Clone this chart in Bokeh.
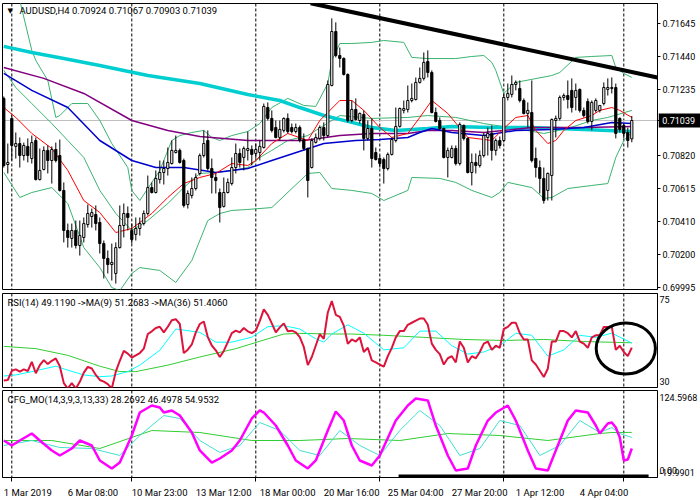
from bokeh.plotting import figure
from bokeh.layouts import column
from bokeh.models import Range1d, FixedTicker, PrintfTickFormatter, Span, Label, ColumnDataSource, GridBox
from bokeh.core.properties import value
from bokeh.embed import file_html
from bokeh.resources import INLINE

# ---------------- data (prices in points: 1 point = 0.00001) ----------------
open_pts = [71177,70764,71052,70877,70895,70820,70877,70801,70914,70670,70733,70852,70789,70858,70820,70602,70352,70302,70352,70258,
            70308,70389,70439,70452,70402,70270,70177,70139,70083,70245,70383,70458,70352,70327,70364,70395,70458,70620,70589,70670,
            70714,70739,70770,70839,70852,70789,70514,70570,70614,70708,70820,70914,70739,70683,70589,70502,70589,70645,70745,70833,
            70808,70852,70858,70833,70839,70870,71120,71052,70995,70933,70977,71052,70995,70970,70995,70920,70864,70745,70902,70927,
            70995,70945,71258,71595,71445,71427,71327,71039,71108,71039,71077,70927,70989,70839,70802,70795,70739,70827,70914,71002,
            71102,71108,71164,71170,71277,71302,71408,71339,71089,71039,70989,70808,70808,70864,70770,71008,70927,70714,70777,70758,
            70820,70933,70958,70852,70914,70914,71183,71202,71264,71239,71164,71083,71089,70802,70745,70677,70602,70695,71039,71052,
            71183,71195,71227,71183,71233,71102,71158,71033,71102,71102,71145,71233,71239,71245,71052,71008,70964,70924]
high_pts = [71189,70895,71070,70964,70933,70901,70927,70945,70933,70864,70877,70883,70877,70901,70920,70652,70395,70395,70414,70414,
            70433,70514,70489,70508,70433,70289,70227,70270,70277,70508,70520,70502,70395,70433,70433,70477,70695,70652,70727,70789,
            70789,70870,70914,70945,70864,70801,70602,70683,70708,70833,70977,70977,70801,70708,70614,70683,70677,70808,70895,70864,
            70877,70970,70883,70895,70914,71145,71152,71102,71039,71039,71058,71083,71020,71020,71008,70958,70870,70927,70958,71008,
            71027,71289,71677,71652,71495,71433,71333,71164,71177,71089,71102,71039,71052,70870,70820,70808,70839,70933,71120,71120,
            71164,71258,71270,71308,71370,71464,71477,71352,71120,71058,70995,70870,70883,70883,71027,71014,70933,70833,70833,70852,
            70964,70995,71008,70927,70939,71208,71270,71320,71289,71289,71177,71152,71289,70870,70789,70745,70714,71052,71070,71195,
            71208,71289,71302,71270,71239,71120,71177,71164,71177,71133,71277,71302,71308,71270,71058,71020,70995,71067]
low_pts = [70745,70708,70789,70801,70745,70789,70777,70770,70664,70664,70727,70708,70645,70777,70595,70277,70245,70245,70239,70195,
           70277,70370,70370,70352,70208,70052,70083,70039,70020,70239,70308,70352,70270,70289,70320,70383,70445,70583,70583,70645,
           70639,70695,70764,70833,70770,70495,70489,70552,70602,70695,70808,70727,70583,70583,70402,70495,70583,70633,70708,70745,
           70727,70789,70758,70801,70789,70864,71039,70964,70927,70914,70964,70958,70958,70958,70902,70852,70558,70739,70895,70914,
           70914,70933,71252,71433,71370,71320,71027,71027,71039,71020,70852,70914,70745,70789,70745,70645,70727,70820,70902,70995,
           71083,71089,71152,71164,71270,71289,71308,71083,71027,70977,70802,70683,70802,70758,70758,70914,70708,70633,70708,70745,
           70808,70820,70789,70820,70864,70902,71164,71183,71227,71152,71077,70995,70777,70683,70583,70520,70539,70539,70933,71039,
           71164,71114,71089,71102,71089,71058,71020,70977,71089,71089,71133,71195,71208,70927,70964,70927,70870,70903]
close_pts = [70758,70777,70883,70895,70820,70883,70820,70901,70670,70727,70852,70789,70858,70789,70602,70352,70308,70352,70258,70320,
             70395,70458,70464,70395,70270,70177,70139,70152,70245,70383,70458,70433,70295,70364,70395,70458,70620,70589,70677,70714,
             70739,70777,70852,70852,70777,70508,70583,70614,70683,70820,70895,70739,70683,70664,70495,70589,70652,70745,70833,70777,
             70864,70864,70827,70858,70877,71127,71052,70977,70933,70983,71052,70970,70970,70995,70914,70864,70664,70914,70933,70995,
             70945,71264,71595,71445,71427,71327,71039,71108,71045,71083,70927,70989,70802,70795,70770,70739,70827,70920,71002,71114,
             71114,71164,71177,71277,71302,71402,71339,71089,71033,70989,70808,70852,70864,70770,71014,70927,70714,70777,70758,70820,
             70945,70958,70852,70914,70883,71183,71208,71264,71277,71164,71083,71102,70789,70745,70677,70539,70708,71045,71052,71183,
             71195,71170,71120,71227,71102,71070,71033,71152,71164,71133,71245,71245,71245,70958,70983,70958,70914,71039]

# moving averages on the price chart (bar index, price)
slow_ma_bars = [0,7,15,24,36,49,61,69,74,80,87,92,98,106,112,122,132,145,157]
slow_ma = [0.71502,0.71464,0.71426,0.71383,0.71320,0.71270,0.71201,0.71164,0.71120,0.71070,0.71027,0.70995,0.70977,0.70989,0.71002,0.70995,0.70995,0.70983,0.70970]
purple_ma_bars = [0,10,20,32,41,49,61,75,84,92,101,106,112,120,132,145,157]
purple_ma = [0.71370,0.71302,0.71208,0.71039,0.70977,0.70939,0.70914,0.70914,0.70945,0.70958,0.70958,0.70977,0.70977,0.70964,0.70995,0.70995,0.71002]
blue_ma_bars = [0,7,16,24,32,38,45,53,61,67,80,88,94,101,104,107,112,120,128,137,145,152,157]
blue_ma = [0.71333,0.71227,0.71120,0.70914,0.70789,0.70745,0.70745,0.70714,0.70739,0.70789,0.70895,0.70914,0.70920,0.70933,0.70964,0.70989,0.70964,0.70945,0.70977,0.70983,0.70995,0.71027,0.71020]
red_ma_bars = [0,3,7,12,16,20,24,28,32,37,41,45,49,53,57,61,63,67,71,76,79,84,87,90,94,97,101,104,107,111,116,122,125,128,131,133,136,138,140,143,147,149,152,154,157]
red_ma = [0.71120,0.71058,0.70958,0.70864,0.70727,0.70539,0.70464,0.70339,0.70364,0.70458,0.70558,0.70645,0.70683,0.70708,0.70770,0.70758,0.70789,0.70895,0.70958,0.70914,
          0.71039,0.71164,0.71164,0.71102,0.70995,0.70933,0.70958,0.71058,0.71164,0.71083,0.70933,0.70914,0.70989,0.71058,0.71070,0.70977,0.70895,0.70914,0.70977,0.71039,
          0.71070,0.71102,0.71120,0.71102,0.71058]
bb_up_bars = [0,4,7,8,11,13,14,17,21,24,27,31,32,34,36,39,42,44,47,50,52,54,57,61,64,67,71,75,78,81,82,84,87,92,95,100,102,106,113,117,120,122,123,125,128,137,139,143,147,152,153,155,157]
bb_up = [0.72258,0.71789,0.71477,0.71414,0.71289,0.71058,0.71070,0.71145,0.71145,0.71039,0.70895,0.70745,0.70602,0.70539,0.70614,0.70727,0.70914,0.70945,0.70964,0.70977,
         0.70933,0.70914,0.70945,0.70970,0.71020,0.71120,0.71177,0.71133,0.71127,0.71270,0.71414,0.71520,0.71520,0.71527,0.71539,0.71527,0.71433,0.71426,0.71426,0.71439,
         0.71445,0.71402,0.71352,0.71208,0.71277,0.71320,0.71339,0.71433,0.71439,0.71445,0.71370,0.71333,0.71308]
bb_mid_bars = [0,3,7,12,16,20,24,28,32,36,41,45,49,53,57,61,64,67,71,76,80,84,92,101,106,113,120,128,135,141,147,151,157]
bb_mid = [0.71352,0.71245,0.71145,0.71020,0.70914,0.70808,0.70602,0.70458,0.70352,0.70414,0.70520,0.70620,0.70708,0.70714,0.70727,0.70745,0.70808,0.70852,0.70914,0.70945,
          0.71008,0.71070,0.71052,0.71058,0.71070,0.71058,0.71020,0.70989,0.70958,0.70989,0.71039,0.71058,0.71102]
bb_lo_bars = [0,4,7,12,16,20,24,27,29,32,34,39,43,47,51,54,57,61,67,76,79,82,87,92,95,101,102,109,113,117,122,124,126,132,135,137,141,147,151,153,155,157]
bb_lo = [0.70714,0.70558,0.70589,0.70620,0.70520,0.70245,0.70120,0.69995,0.69976,0.70083,0.70120,0.70102,0.70027,0.70164,0.70414,0.70458,0.70477,0.70483,0.70495,0.70708,
         0.70714,0.70614,0.70602,0.70583,0.70539,0.70602,0.70683,0.70677,0.70652,0.70602,0.70558,0.70589,0.70652,0.70620,0.70552,0.70558,0.70614,0.70633,0.70645,0.70808,
         0.70914,0.70964]
trend_bars = [76.7, 163.4]
trend_prices = [0.71772, 0.71308]
bid_price = 0.71039
price_ticks = [0.69995, 0.70200, 0.70410, 0.70615, 0.70820, 0.71235, 0.71440, 0.71645]

# RSI(14) one value per bar, and its moving averages
rsi = [33.3,33.6,38.0,38.7,37.6,38.7,37.9,42.3,36.8,40.7,43.1,41.2,42.8,43.9,40.2,32.1,29.5,32.1,29.5,32.7,
       37.1,39.9,39.1,36.0,33.6,32.8,31.6,29.5,37.6,42.8,47.5,46.2,44.3,45.4,46.5,48.6,55.6,56.9,58.5,59.1,
       56.4,59.1,62.2,62.7,60.4,46.5,48.1,50.6,56.4,60.4,61.6,54.1,50.1,47.8,44.6,47.5,51.7,56.0,57.2,56.4,
       58.5,56.9,56.0,57.2,61.9,67.4,64.8,60.7,56.4,58.8,60.7,56.9,57.2,56.4,54.1,49.4,40.7,44.6,50.1,55.6,
       53.3,65.9,71.4,64.8,63.8,59.6,50.9,53,52,54,47,49,43,42,41,40,45,49,54,57,57,60,61,62,63,63,60,
       51,48,46,41,44,45,42,52,49,42,45,44,47,51,52,48,50,49,58,59,61,61,56,53,53,43,41,38,35,39,
       52,52,57,57,56,54,57,52,51,49,54,55,55,59,59,59,48,50,47,45,49.119]
rsi_ma9_bars = [0,3,7,13,16,20,24,27,31,34,39,43,46,49,53,57,62,66,70,74,78,80,82,86,90,95,100,104,108,112,116,120,124,128,132,136,140,144,148,152,157]
rsi_ma9 = [35.5,36.0,37.6,40.2,38.3,36.0,35.2,35.5,37.6,40.7,47.8,58.0,57.2,56.4,51.7,51.7,54.1,59.1,59.6,58.0,
           53.3,51.7,55.6,60.0,56,48,49,57,57,50,46,47,50,56,55,45,48,55,54,56,51.2683]
rsi_ma36_bars = [0,8,16,24,29,33,41,49,58,66,70,74,83,87,95,105,115,125,135,145,157]
rsi_ma36 = [49.7,48.6,45.4,40.2,37.6,37.6,40.7,44.6,48.6,53.3,55.6,55.9,55.6,55.6,55,54,53,52.5,53,52,51.406]
circle_bar, circle_rsi, circle_w, circle_h = [155.5], [48.7], [14.8], [24.5]

# CFG_MO oscillator
cfg_bars = [0,2,4,7,9,12,14,17,19,22,24,27,29,32,34,37,39,40,42,44,47,49,52,54,57,59,62,64,65,68,71,73,76,78,81,83,85,87,89,92,
            94,98,101,103,106,108,111,113,116,118,121,123,126,128,131,133,136,138,141,143,146,148,149,151,152,153,154,155,156,157]
cfg_main = [41.5,33.2,41.5,53.1,41.5,24.9,16.6,28.2,41.5,33.2,8.3,-5.0,4.9,49.8,88.0,99.7,96.3,88.0,91.4,83.0,
            54.8,24.9,4.9,11.6,24.9,41.5,78.1,91.4,88.0,66.4,33.2,8.3,-5.0,8.3,58.1,89.7,74.7,33.2,8.3,0.0,
            16.6,74.7,99.7,111.3,108.0,66.4,16.6,-8.4,-5.0,33.2,74.7,88.0,99.7,74.7,24.9,-5.0,-8.4,24.9,74.7,91.4,
            88.0,66.4,53.1,69.8,71.4,63.1,46.5,8.3,9.9,28.2692]
cfg_sig1_bars = [0,7,14,22,29,34,40,44,49,54,59,64,69,74,79,84,89,94,99,104,109,114,119,124,129,134,139,144,149,152,154,157]
cfg_sig1 = [33.2,41.5,29.9,28.2,16.6,49.8,83.0,78.1,41.5,21.6,33.2,71.4,58.1,24.9,16.6,58.1,33.2,16.6,58.1,91.4,
            66.4,16.6,28.2,74.7,66.4,16.6,33.2,74.7,54.8,63.1,53.1,46.4978]
cfg_sig2_bars = [0,12,24,37,49,62,74,86,99,111,124,136,149,152,157]
cfg_sig2 = [41.5,41.5,28.2,58.1,54.8,41.5,41.5,44.8,41.5,53.1,49.8,41.5,53.1,54.8,54.9532]
cfg_bar_line_bars = [98.7, 161.2]
cfg_bar_line_vals = [-18.3, -18.3]

# time axis
time_tick_bars = [0, 16, 32, 48, 64, 80, 96, 112, 128, 144]
time_tick_labels = ["1 Mar 2019", "6 Mar 08:00", "10 Mar 23:00", "13 Mar 12:00", "18 Mar 00:00",
                    "20 Mar 16:00", "25 Mar 04:00", "27 Mar 20:00", "1 Apr 12:00", "4 Apr 04:00"]
week_sep_bars = [2, 32, 63, 94, 125, 155]

# ---------------- styling / layout ----------------
FONT = "Roboto"
AX_FS = 9        # px, price / oscillator axis labels
TM_FS = 9.5      # px, time axis labels
TT_FS = 9.5      # px, window titles
FW = 655
BL, BR = 2, 43
X_RANGE = (-0.325, 163.425)
PX_PER_BAR = FW / (X_RANGE[1] - X_RANGE[0])


def text_width(s, size):
    # rough advance widths (em) of Roboto, used to left-align time labels at their bar
    em = {" ": 0.248, ":": 0.242, ".": 0.263, "M": 0.873, "A": 0.652, "a": 0.543, "r": 0.338, "p": 0.561}
    return sum(em.get(ch, 0.5615) for ch in s) * size


def make_fig(fh, y_range, btop, bbot, with_xaxis):
    p = figure(frame_width=FW, frame_height=fh, x_range=Range1d(*X_RANGE), y_range=y_range,
               output_backend="svg", toolbar_location=None, y_axis_location="right",
               x_axis_location="below" if with_xaxis else None,
               min_border_left=BL, min_border_right=BR, min_border_top=btop, min_border_bottom=bbot)
    p.grid.visible = False
    p.background_fill_color = "white"
    p.border_fill_color = "white"
    p.outline_line_color = "black"
    p.outline_line_width = 1
    p.outline_line_alpha = 1.0
    ax = p.yaxis[0]
    ax.axis_line_color = "black"
    ax.major_tick_in = 0
    ax.minor_tick_in = 0
    ax.minor_tick_out = 0
    ax.major_label_text_font = FONT
    ax.major_label_text_font_size = f"{AX_FS}px"
    ax.major_label_text_color = "black"
    ax.major_label_standoff = 2
    for b in week_sep_bars:
        p.add_layout(Span(location=b, dimension="height", line_color="black", line_width=1,
                          line_dash="3 2", level="underlay"))
    return p


def title(p, fh, x, dy, text):
    p.add_layout(Label(x=x, y=fh - dy, x_units="screen", y_units="screen", text=text,
                       text_font=FONT, text_font_size=f"{TT_FS}px", text_color="black",
                       text_baseline="middle", text_align="left"))


# ---- main price panel ----
FH1, T1, B1 = 286, 3, 4
price_range = Range1d(0.69983, 0.71770)
p1 = make_fig(FH1, price_range, T1, B1, False)
p1.yaxis[0].ticker = FixedTicker(ticks=price_ticks + [bid_price])
p1.yaxis[0].formatter = PrintfTickFormatter(format="%.5f")
p1.yaxis[0].major_tick_out = 3
p1.add_layout(Span(location=bid_price, dimension="width", line_color="#C0C0C0", line_width=1, level="underlay"))

p1.line(bb_up_bars, bb_up, line_color="#3CB371", line_width=1)
p1.line(bb_mid_bars, bb_mid, line_color="#3CB371", line_width=1)
p1.line(bb_lo_bars, bb_lo, line_color="#3CB371", line_width=1)
p1.line(slow_ma_bars, slow_ma, line_color="#00CED1", line_width=3.5)
p1.line(purple_ma_bars, purple_ma, line_color="#800080", line_width=1.5)
p1.line(blue_ma_bars, blue_ma, line_color="#0000CD", line_width=1.5)
p1.line(red_ma_bars, red_ma, line_color="#FF0000", line_width=1)

idx = list(range(len(close_pts)))
o = [v / 1e5 for v in open_pts]
h = [v / 1e5 for v in high_pts]
l = [v / 1e5 for v in low_pts]
c = [v / 1e5 for v in close_pts]
src = ColumnDataSource(dict(
    x=idx, high=h, low=l,
    top=[max(a, b) for a, b in zip(o, c)],
    bottom=[min(a, b) for a, b in zip(o, c)],
    fill=["white" if cc >= oo else "black" for oo, cc in zip(o, c)],
))
p1.segment(x0="x", y0="low", x1="x", y1="high", source=src, line_color="black", line_width=1)
p1.vbar(x="x", width=0.55, top="top", bottom="bottom", source=src,
        fill_color="fill", line_color="black", line_width=1)
p1.line(trend_bars, trend_prices, line_color="black", line_width=4)

title(p1, FH1, 17, 7, "AUDUSD,H4  0.70924 0.71067 0.70903 0.71039")
p1.add_layout(Label(x=5, y=FH1 - 7, x_units="screen", y_units="screen", text="\u25BC",
                    text_font="DejaVu Sans", text_font_size="7px", text_color="black",
                    text_baseline="middle", text_align="left"))

# overlay holding the black current-price box, sitting over the price axis
BOX_W = 700 - (BL + FW + 1)
pbox = figure(frame_width=BOX_W, frame_height=FH1, x_range=Range1d(0, 1), y_range=price_range,
              output_backend="svg", toolbar_location=None, x_axis_location=None, y_axis_location=None,
              min_border_left=BL + FW + 1, min_border_right=0, min_border_top=T1, min_border_bottom=B1)
pbox.grid.visible = False
pbox.outline_line_color = None
pbox.background_fill_alpha = 0
pbox.border_fill_alpha = 0
half_h = 7 * (price_range.end - price_range.start) / FH1
pbox.quad(left=[0], right=[1], top=[bid_price + half_h], bottom=[bid_price - half_h],
          fill_color="black", line_color=None)
pbox.text(x=[0.09], y=[bid_price], text=["0.71039"], text_color="white",
          text_font=value(FONT), text_font_size=f"{AX_FS}px", text_baseline="middle", text_align="left")

# ---- RSI panel ----
FH2 = 94
p2 = make_fig(FH2, Range1d(30, 75), 0, 2, False)
p2.yaxis[0].ticker = FixedTicker(ticks=[72.1, 32.9])
p2.yaxis[0].major_label_overrides = {72.1: "75", 32.9: "30"}
p2.yaxis[0].major_tick_out = 0
p2.line(rsi_ma36_bars, rsi_ma36, line_color="#32CD32", line_width=1)
p2.line(rsi_ma9_bars, rsi_ma9, line_color="#00FFFF", line_width=1)
p2.line(idx, rsi, line_color="#DC143C", line_width=2)
p2.ellipse(x=circle_bar, y=circle_rsi, width=circle_w, height=circle_h,
           fill_color=None, line_color="black", line_width=3)
title(p2, FH2, 5, 9, "RSI(14) 49.1190  ->MA(9) 51.2683  ->MA(36) 51.4060")

# ---- CFG_MO panel ----
FH3 = 87
p3 = make_fig(FH3, Range1d(-19.9901, 124.5968), 1, 23, True)
p3.yaxis[0].ticker = FixedTicker(ticks=[113.0, -8.4, -11.4])
p3.yaxis[0].major_label_overrides = {113.0: "124.5968", -8.4: "0.00", -11.4: "-19.9901"}
p3.yaxis[0].major_tick_out = 0
p3.line(cfg_sig2_bars, cfg_sig2, line_color="#32CD32", line_width=1)
p3.line(cfg_sig1_bars, cfg_sig1, line_color="#40E0D0", line_width=1)
p3.line(cfg_bars, cfg_main, line_color="#FF00FF", line_width=2.5)
p3.line(cfg_bar_line_bars, cfg_bar_line_vals, line_color="black", line_width=4)
title(p3, FH3, 5, 9, "CFG_MO(14,3,9,3,13,33) 28.2692 46.4978 54.9532")

# time labels: MT4 writes each label starting at its bar, so the centred axis
# label is placed half a label width to the right of the bar
label_pos = [round(b + text_width(s, TM_FS) / 2 / PX_PER_BAR, 2) for b, s in zip(time_tick_bars, time_tick_labels)]
xa = p3.xaxis[0]
xa.ticker = FixedTicker(ticks=label_pos, minor_ticks=week_sep_bars)
xa.major_label_overrides = {pos: s for pos, s in zip(label_pos, time_tick_labels)}
xa.major_label_text_font = FONT
xa.major_label_text_font_size = f"{TM_FS}px"
xa.major_label_text_color = "black"
xa.major_tick_in = 0
xa.major_tick_out = 0
xa.minor_tick_in = 0
xa.minor_tick_out = 4
xa.axis_line_color = "black"
xa.major_label_standoff = 5

# the price box overlays the main chart only if frame alignment can be switched off
overlay_ok = True
try:
    for fig in (p1, pbox, p2, p3):
        fig.frame_align = False
except Exception:
    overlay_ok = False

if overlay_ok:
    layout = GridBox(children=[(p1, 0, 0), (pbox, 0, 0), (p2, 1, 0), (p3, 2, 0)], spacing=0)
else:
    layout = column(p1, p2, p3, spacing=0)
open("out.html", "w").write(file_html(layout, INLINE))
